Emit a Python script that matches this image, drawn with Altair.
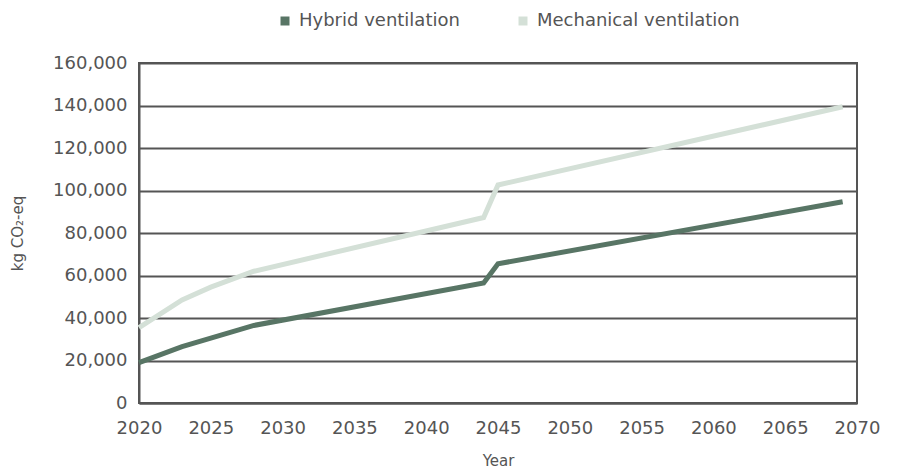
import altair as alt
import pandas as pd

series_names = ["Hybrid ventilation", "Mechanical ventilation"]
years = [2020, 2023, 2025, 2028, 2044, 2045, 2069]
hybrid = [19000, 26500, 30500, 36500, 56500, 65500, 94700]
mechanical = [35500, 48500, 54500, 62000, 87300, 102600, 139400]
x_ticks = [2020, 2025, 2030, 2035, 2040, 2045, 2050, 2055, 2060, 2065, 2070]
y_ticks = [0, 20000, 40000, 60000, 80000, 100000, 120000, 140000, 160000]

rows = []
for y, v in zip(years, hybrid):
    rows.append({"Year": y, "value": v, "series": series_names[0]})
for y, v in zip(years, mechanical):
    rows.append({"Year": y, "value": v, "series": series_names[1]})
df = pd.DataFrame(rows)

FONT = "DejaVu Sans"
GREY = "#555555"

chart = alt.Chart(df).mark_line(strokeWidth=5, strokeCap="butt").encode(
    x=alt.X("Year:Q",
            scale=alt.Scale(domain=[2020, 2070], nice=False, zero=False),
            axis=alt.Axis(values=x_ticks, format="d", title="Year", grid=False,
                          ticks=False, labelPadding=16, titlePadding=16,
                          labelFlush=False, labelOverlap=False,
                          domainColor=GREY, domainWidth=2)),
    y=alt.Y("value:Q",
            scale=alt.Scale(domain=[0, 160000], nice=False),
            axis=alt.Axis(values=y_ticks, format=",d", title="kg CO₂-eq",
                          ticks=False, labelPadding=12,
                          titleX=-122, titleY=170, titleBaseline="middle",
                          titleAlign="center", titleAngle=270,
                          gridColor=GREY, gridWidth=2, gridOpacity=1,
                          domainColor=GREY, domainWidth=2)),
    color=alt.Color("series:N",
                    scale=alt.Scale(domain=series_names, range=["#587565", "#d4e0d7"]),
                    legend=alt.Legend(title=None, orient="none", direction="horizontal",
                                      legendX=137, legendY=-51, symbolType="square",
                                      symbolSize=16, symbolStrokeWidth=5,
                                      columnPadding=51, labelOffset=5, labelLimit=400)),
).properties(
    width=718, height=340,
    autosize=alt.AutoSizeParams(type="none"),
    padding={"left": 131, "top": 55, "right": 36, "bottom": 70},
).configure_view(
    stroke=GREY, strokeWidth=2
).configure_axis(
    labelFont=FONT, titleFont=FONT, labelColor=GREY, titleColor=GREY,
    labelFontSize=18, titleFontSize=15, titleFontWeight="normal"
).configure_legend(
    labelFont=FONT, labelFontSize=18, labelColor=GREY
)

chart.save("out.html", embed_options={"renderer": "svg", "actions": False})
